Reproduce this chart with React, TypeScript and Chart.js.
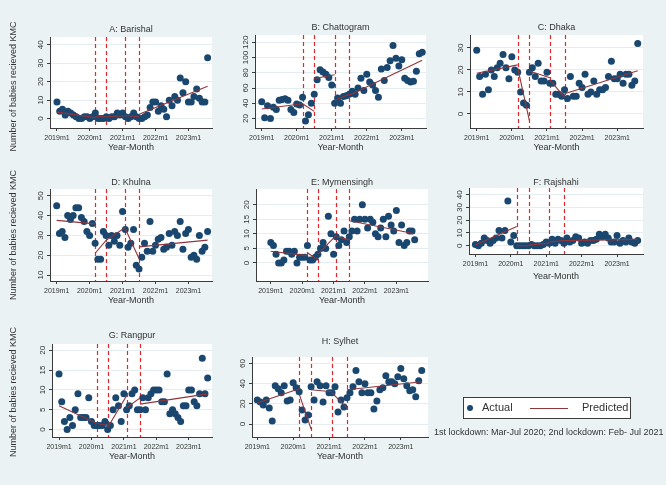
import React, { useEffect, useRef } from 'react';
import { Chart, registerables } from 'chart.js';

Chart.register(...registerables);

// Monthly series, 2019m1 .. 2023m8 (56 months, index 0 = 2019m1)
const tickMonths = [0, 12, 24, 36, 48];
const tickLabels = ['2019m1', '2020m1', '2021m1', '2022m1', '2023m1'];
const lockdownMonths = [14, 18, 25, 30];
const segmentMonths = [[0, 14], [14, 18], [18, 25], [25, 30], [30, 55]];

const barishal = [9, 4, 5, 2, 4, 3, 2, 1, 0, 0, 1, 1, 0, 1, 3, 0, 0, 0, 1, 0, 1, 1, 3, 2, 3, 1, 0, 1, 3, 1, 0, 0, 1, 2, 6, 9, 9, 4, 7, 5, 1, 10, 7, 12, 10, 22, 14, 20, 9, 9, 12, 16, 11, 9, 9, 33];
const barishalFit = [[3.5, 0.5], [1, 1], [1, 1.5], [1.5, 1], [2.4, 17.5]];
const barishalTicks = [0, 10, 20, 30, 40];

const chattogram = [42, 21, 37, 20, 35, 32, 44, 45, 46, 44, 32, 28, 39, 38, 48, 17, 25, 40, 52, 71, 84, 81, 78, 74, 64, 40, 47, 40, 49, 50, 52, 56, 52, 60, 73, 57, 78, 68, 64, 57, 48, 85, 70, 87, 96, 116, 99, 89, 97, 73, 70, 68, 69, 82, 105, 107];
const chattogramFit = [[32.5, 39.5], [39.5, 29.5], [72.5, 77.5], [44, 52], [50.5, 96.5]];
const chattogramTicks = [20, 40, 60, 80, 100, 120];

const dhaka = [29, 17, 9, 18, 11, 20, 17, 21, 23, 27, 21, 16, 26, 20, 19, 10, 5, 4, 19, 21, 17, 23, 15, 15, 19, 14, 14, 9, 9, 8, 11, 7, 17, 8, 8, 14, 12, 18, 9, 10, 15, 9, 11, 11, 12, 17, 24, 16, 16, 18, 14, 18, 18, 13, 15, 32];
const dhakaFit = [[18.5, 22.3], [21, -3], [19.5, 16.5], [15.5, 7.5], [9.2, 19.6]];
const dhakaTicks = [0, 10, 20, 30];

const khulna = [45, 31, 32, 29, 40, 38, 40, 44, 44, 39, 37, 32, 30, 36, 26, 18, 18, 32, 30, 25, 30, 27, 30, 25, 42, 33, 24, 26, 33, 15, 13, 19, 26, 22, 37, 22, 25, 28, 29, 23, 24, 31, 25, 32, 30, 37, 23, 31, 33, 19, 20, 18, 30, 22, 24, 32];
const khulnaFit = [[37.6, 35.8], [21, 27.5], [27.5, 34], [33.3, 18.4], [24.2, 27.6]];
const khulnaTicks = [10, 20, 30, 40, 50];

const mymensingh = [7, 6, 3, 0, 0, 1, 4, 4, 3, 4, 0, 2, 2, 2, 6, 1, 1, 2, 3, 5, 7, 5, 16, 10, 3, 9, 6, 8, 11, 7, 9, 11, 15, 11, 15, 20, 15, 12, 15, 14, 10, 9, 12, 15, 9, 16, 13, 11, 18, 7, 13, 6, 7, 11, 11, 8];
const mymensinghFit = [[4, 2.5], [3.5, 1], [3, 9.5], [9, 8], [14.5, 10]];
const mymensinghTicks = [0, 5, 10, 15, 20];

const rajshahi = [1, 0, 2, 6, 4, 2, 4, 6, 12, 6, 12, 35, 3, 8, 0, 0, 0, 0, 0, 1, 0, 0, 0, 1, 3, 2, 5, 2, 5, 4, 2, 6, 3, 4, 7, 6, 2, 3, 2, 4, 4, 5, 9, 7, 9, 6, 3, 3, 8, 2, 4, 3, 6, 3, 2, 4];
const rajshahiFit = [[0.5, 15], [0, 0], [0.5, 2], [3, 4], [4, 5]];
const rajshahiTicks = [0, 10, 20, 30, 40];

const rangpur = [14, 7, 2, 0, 3, 1, 5, 9, 3, 3, 3, 8, 2, 1, 1, 1, 1, 2, 0, 1, 5, 8, 6, 2, 9, 5, 6, 9, 10, 5, 5, 8, 5, 8, 9, 10, 10, 10, 7, 7, 14, 4, 5, 4, 3, 2, 6, 6, 10, 10, 7, 6, 9, 18, 9, 13];
const rangpurFit = [[6, 1.5], [1.5, 1], [0.5, 8.5], [5.5, 8], [6.4, 9]];
const rangpurTicks = [0, 5, 10, 15, 20];

const sylhet = [24, 22, 19, 24, 16, 3, 38, 35, 31, 38, 23, 24, 41, 36, 32, 14, 4, 9, 37, 24, 42, 38, 22, 38, 31, 31, 37, 12, 24, 17, 26, 31, 37, 53, 42, 31, 40, 31, 31, 15, 23, 34, 36, 48, 42, 42, 40, 47, 55, 45, 38, 33, 34, 27, 43, 53];
const sylhetFit = [[21, 35], [30, -5], [34, 32], [31, 16], [34, 42]];
const sylhetTicks = [0, 20, 40, 60];

const FONT = '"Liberation Sans", Arial, Helvetica, sans-serif';
const TEXT = '#333333';
const AXIS = '#3c3c3c';
const GRID = '#e4edef';
const BG = '#eaf2f3';
const NAVY = '#1a476f';
const MAROON = '#90353b';
const RED = '#e3262b';
const Y_TITLE = 'Number of babies recieved KMC';

type PanelSpec = {
  title: string;
  actual: number[];
  fit: number[][];
  yTicks: number[];
  rect: [number, number, number, number];
  xRange: [number, number];
  yRange: [number, number];
  titleY: number;
  yTitleY?: number;
  xAxisH: number;
};

const panels: PanelSpec[] = [
  { title: 'A: Barishal', actual: barishal, fit: barishalFit, yTicks: barishalTicks, rect: [50, 37, 212, 128], xRange: [-2.55, 56.6], yRange: [-5.1, 44.2], titleY: 30, yTitleY: 86.5, xAxisH: 25 },
  { title: 'B: Chattogram', actual: chattogram, fit: chattogramFit, yTicks: chattogramTicks, rect: [255, 35, 426, 128], xRange: [-2.3, 56.3], yRange: [7.7, 129.6], titleY: 28, xAxisH: 25 },
  { title: 'C: Dhaka', actual: dhaka, fit: dhakaFit, yTicks: dhakaTicks, rect: [470, 35, 643, 128], xRange: [-2.29, 56.8], yRange: [-6.4, 35.9], titleY: 28, xAxisH: 25 },
  { title: 'D: Khulna', actual: khulna, fit: khulnaFit, yTicks: khulnaTicks, rect: [50, 189, 212, 281], xRange: [-2.44, 56.6], yRange: [7.0, 53.4], titleY: 182.7, yTitleY: 235, xAxisH: 25 },
  { title: 'E: Mymensingh', actual: mymensingh, fit: mymensinghFit, yTicks: mymensinghTicks, rect: [256, 189, 428, 281], xRange: [-5.66, 60.1], yRange: [-6.2, 25.4], titleY: 182.7, xAxisH: 25 },
  { title: 'F: Rajshahi', actual: rajshahi, fit: rajshahiFit, yTicks: rajshahiTicks, rect: [469, 188, 643, 254], xRange: [-2.17, 56.8], yRange: [-6.5, 45.3], titleY: 182.7, xAxisH: 28 },
  { title: 'G: Rangpur', actual: rangpur, fit: rangpurFit, yTicks: rangpurTicks, rect: [52, 344, 212, 437], xRange: [-2.6, 56.6], yRange: [-1.9, 21.6], titleY: 336, yTitleY: 392, xAxisH: 25 },
  { title: 'H: Sylhet', actual: sylhet, fit: sylhetFit, yTicks: sylhetTicks, rect: [252, 357, 428, 437], xRange: [-1.77, 57.1], yRange: [-12.8, 66.5], titleY: 341.7, xAxisH: 25 },
];

// canvas margins around each plot region
const PAD_L = 48;
const PAD_T = 30;
const PAD_R = 8;
const PAD_B = 32;
const Y_AXIS_W = 14;

function Panel({ spec }: { spec: PanelSpec }) {
  const ref = useRef<HTMLCanvasElement>(null);
  const [l, t, r, b] = spec.rect;
  const cx = l - PAD_L;
  const cy = t - PAD_T;
  const cw = r - l + PAD_L + PAD_R;
  const ch = b - t + PAD_T + PAD_B;

  useEffect(() => {
    if (!ref.current) return;

    const decor = {
      id: 'panelDecor',
      beforeDraw(chart: any) {
        const { ctx, chartArea: a } = chart;
        ctx.save();
        ctx.fillStyle = '#ffffff';
        ctx.fillRect(a.left, a.top, a.right - a.left, a.bottom - a.top);
        ctx.restore();
      },
      beforeDatasetsDraw(chart: any) {
        const { ctx, chartArea: a, scales } = chart;
        ctx.save();
        ctx.strokeStyle = RED;
        ctx.lineWidth = 1.2;
        ctx.setLineDash([4, 3]);
        lockdownMonths.forEach((m) => {
          const x = Math.round(scales.x.getPixelForValue(m)) + 0.5;
          ctx.beginPath();
          ctx.moveTo(x, a.top);
          ctx.lineTo(x, a.bottom);
          ctx.stroke();
        });
        ctx.restore();
      },
      afterDraw(chart: any) {
        const { ctx, chartArea: a, scales } = chart;
        ctx.save();
        ctx.fillStyle = TEXT;
        // panel title
        ctx.font = `9px ${FONT}`;
        ctx.textAlign = 'center';
        ctx.textBaseline = 'middle';
        ctx.fillText(spec.title, (a.left + a.right) / 2, spec.titleY - cy);
        // vertical y tick labels
        ctx.font = `8px ${FONT}`;
        spec.yTicks.forEach((v) => {
          const y = scales.y.getPixelForValue(v);
          ctx.save();
          ctx.translate(a.left - 9.5, y);
          ctx.rotate(-Math.PI / 2);
          ctx.fillText(String(v), 0, 0);
          ctx.restore();
        });
        // y axis title on the left column
        if (spec.yTitleY !== undefined) {
          ctx.font = `9px ${FONT}`;
          ctx.save();
          ctx.translate(13.5 - cx, spec.yTitleY - cy);
          ctx.rotate(-Math.PI / 2);
          ctx.fillText(Y_TITLE, 0, 0);
          ctx.restore();
        }
        ctx.restore();
      },
    };

    const fitSets = spec.fit.map((seg, k) => ({
      type: 'scatter' as const,
      showLine: true,
      data: [
        { x: segmentMonths[k][0], y: seg[0] },
        { x: segmentMonths[k][1], y: seg[1] },
      ],
      borderColor: MAROON,
      borderWidth: 1.1,
      pointRadius: 0,
      order: 0,
    }));

    const chart = new Chart(ref.current, {
      type: 'scatter',
      data: {
        datasets: [
          ...fitSets,
          {
            data: spec.actual.map((v, i) => ({ x: i, y: v })),
            backgroundColor: NAVY,
            borderColor: NAVY,
            borderWidth: 0,
            pointRadius: 3.5,
            order: 1,
          },
        ],
      },
      options: {
        responsive: false,
        animation: false,
        devicePixelRatio: 1,
        events: [],
        layout: {
          padding: { left: PAD_L - Y_AXIS_W, top: PAD_T, right: PAD_R, bottom: PAD_B - spec.xAxisH },
        },
        plugins: { legend: { display: false }, tooltip: { enabled: false }, title: { display: false } },
        scales: {
          x: {
            type: 'linear',
            min: spec.xRange[0],
            max: spec.xRange[1],
            afterBuildTicks: (s: any) => {
              s.ticks = tickMonths.map((v) => ({ value: v }));
            },
            afterFit: (s: any) => {
              s.height = spec.xAxisH;
            },
            ticks: {
              autoSkip: false,
              maxRotation: 0,
              minRotation: 0,
              padding: 3,
              color: TEXT,
              font: { size: 7, family: FONT },
              callback: (_v: any, i: number) => tickLabels[i],
            },
            grid: { display: true, drawOnChartArea: false, drawTicks: true, tickLength: 3, color: AXIS, tickColor: AXIS },
            border: { display: true, color: AXIS, width: 1 },
            title: { display: true, text: 'Year-Month', color: TEXT, font: { size: 9, family: FONT }, padding: 0 },
          },
          y: {
            type: 'linear',
            min: spec.yRange[0],
            max: spec.yRange[1],
            afterBuildTicks: (s: any) => {
              s.ticks = spec.yTicks.map((v) => ({ value: v }));
            },
            afterFit: (s: any) => {
              s.width = Y_AXIS_W;
            },
            ticks: { display: false },
            grid: { display: true, drawOnChartArea: true, drawTicks: true, tickLength: 3, color: GRID, tickColor: AXIS },
            border: { display: true, color: AXIS, width: 1 },
          },
        },
      },
      plugins: [decor],
    } as any);

    return () => chart.destroy();
  }, []);

  return (
    <canvas
      ref={ref}
      width={cw}
      height={ch}
      style={{ position: 'absolute', left: cx, top: cy, width: cw, height: ch }}
    />
  );
}

export default function App() {
  return (
    <div
      style={{
        position: 'absolute',
        left: 0,
        top: 0,
        width: 666,
        height: 485,
        background: BG,
        overflow: 'hidden',
        fontFamily: FONT,
      }}
    >
      {panels.map((p) => (
        <Panel key={p.title} spec={p} />
      ))}
      {/* legend */}
      <div
        style={{
          position: 'absolute',
          left: 463,
          top: 397,
          width: 166,
          height: 20,
          background: '#ffffff',
          border: `1px solid ${AXIS}`,
        }}
      >
        <div
          style={{
            position: 'absolute',
            left: 3,
            top: 7,
            width: 6,
            height: 6,
            borderRadius: 3,
            background: NAVY,
          }}
        />
        <div style={{ position: 'absolute', left: 18, top: 3, fontSize: 11, lineHeight: '13px', color: TEXT }}>Actual</div>
        <div style={{ position: 'absolute', left: 66, top: 10, width: 38, height: 1, background: MAROON }} />
        <div style={{ position: 'absolute', left: 118, top: 3, fontSize: 11, lineHeight: '13px', color: TEXT }}>Predicted</div>
      </div>
      <div
        style={{
          position: 'absolute',
          left: 434,
          top: 427,
          fontSize: 9,
          lineHeight: '11px',
          color: TEXT,
          whiteSpace: 'nowrap',
        }}
      >
        1st lockdown: Mar-Jul 2020; 2nd lockdown: Feb- Jul 2021
      </div>
    </div>
  );
}
